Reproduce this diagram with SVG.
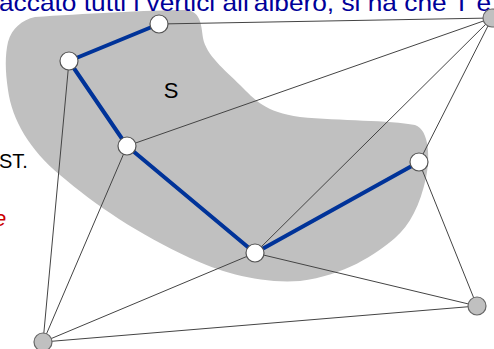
<svg xmlns="http://www.w3.org/2000/svg" width="494" height="349" viewBox="0 0 494 349">
<style>
.e{stroke:#444;stroke-width:1;fill:none}
.t{stroke:#003399;stroke-width:4;fill:none;stroke-linecap:round}
.w{fill:#fff;stroke:#555;stroke-width:1.2}
.g{fill:#c0c0c0;stroke:#666;stroke-width:1.2}
.txt{font-family:"Comic Sans MS","Liberation Sans",sans-serif}
</style>
<rect width="494" height="349" fill="#fff"/>
<path id="S-region" d="M 8,42 C 12,28 22,20 35,17 C 80,14 150,10 185,10 C 200,11 201,22 203,38 C 206,55 225,70 240,85 C 255,100 265,112 300,117 C 340,121 390,120 415,125 C 430,130 430,160 426,178 C 420,205 410,225 395,238 C 375,255 345,275 300,281 C 260,284 220,272 190,258 C 140,235 95,205 60,175 C 30,150 12,120 8,90 C 5,70 5,55 8,42 Z" fill="#c0c0c0"/>
<text class="txt" x="-1" y="11" font-size="24" fill="#000099" textLength="492" lengthAdjust="spacingAndGlyphs">accato tutti i vertici all'albero, si ha che T è</text>
<text class="txt" x="-1" y="168" font-size="20" fill="#000">ST.</text>
<text class="txt" x="-6" y="226" font-size="22" font-style="italic" fill="#cc0000">e</text>
<text class="txt" x="171" y="98" font-size="22" fill="#000" text-anchor="middle">S</text>
<g id="connectors">
<line class="e" x1="159" y1="24" x2="492" y2="18"/>
<line class="e" x1="127" y1="146" x2="492" y2="18"/>
<line class="e" x1="255" y1="253" x2="492" y2="18"/>
<line class="e" x1="419" y1="162" x2="492" y2="18"/>
<line class="e" x1="69" y1="61" x2="43" y2="342"/>
<line class="e" x1="127" y1="146" x2="43" y2="342"/>
<line class="e" x1="255" y1="253" x2="43" y2="342"/>
<line class="e" x1="255" y1="253" x2="477" y2="306"/>
<line class="e" x1="419" y1="162" x2="477" y2="306"/>
<line class="e" x1="43" y1="342" x2="477" y2="306"/>
<line class="t" x1="159" y1="24" x2="69" y2="61"/>
<line class="t" x1="69" y1="61" x2="127" y2="146"/>
<line class="t" x1="127" y1="146" x2="255" y2="253"/>
<line class="t" x1="255" y1="253" x2="419" y2="162"/>
</g>
<g id="nA"><circle class="w" cx="159" cy="24" r="9"/></g>
<g id="nB"><circle class="w" cx="69" cy="61" r="9"/></g>
<g id="nC"><circle class="w" cx="127" cy="146" r="9"/></g>
<g id="nD"><circle class="w" cx="419" cy="162" r="9"/></g>
<g id="nE"><circle class="w" cx="255" cy="253" r="9"/></g>
<g id="nF"><circle class="g" cx="492" cy="18" r="9"/></g>
<g id="nG"><circle class="g" cx="477" cy="306" r="9"/></g>
<g id="nH"><circle class="g" cx="43" cy="342" r="9"/></g>
</svg>
